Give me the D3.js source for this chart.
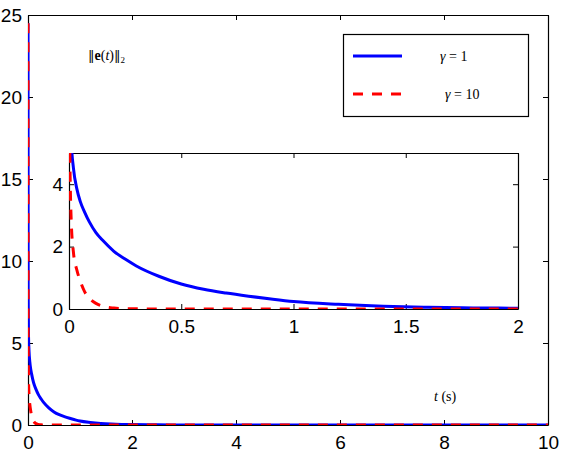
<!DOCTYPE html>
<html>
<head>
<meta charset="utf-8">
<script src="https://cdn.jsdelivr.net/npm/d3@7"></script>
<style>
body { margin: 0; background: #fff; }
svg { display: block; }
.tick text { font-family: "Liberation Sans", Arial, sans-serif; font-size: 19px; fill: #000; }
.domain { stroke: #000; stroke-width: 1.2; }
.tick line { stroke: #000; }
text.tex { font-family: "Liberation Serif", "Times New Roman", serif; font-size: 14px; fill: #000; }
</style>
</head>
<body>
<svg id="chart" width="562" height="468"></svg>
<script>
// time samples (s) and error norm for each gain
var times = [0, 0.003, 0.01, 0.02, 0.035, 0.05, 0.07, 0.09, 0.12, 0.15, 0.2, 0.25, 0.3, 0.4, 0.5,
    0.6, 0.7, 0.8, 0.9, 1.0, 1.2, 1.4, 1.6, 1.8, 2.0, 2.5, 3, 4, 5, 6, 7, 8, 9, 10];
var errGamma1 = [24.5, 8.0, 5.4, 4.5, 3.85, 3.45, 3.1, 2.8, 2.45, 2.2, 1.85, 1.6, 1.38, 1.05, 0.8,
    0.63, 0.51, 0.41, 0.32, 0.24, 0.15, 0.09, 0.055, 0.035, 0.025, 0.01, 0.005, 0, 0, 0, 0, 0, 0, 0];
var errGamma10 = [24.5, 5.5, 2.8, 1.8, 1.25, 0.9, 0.55, 0.35, 0.18, 0.09, 0.03, 0.01, 0.005, 0, 0,
    0, 0, 0, 0, 0, 0, 0, 0, 0, 0, 0, 0, 0, 0, 0, 0, 0, 0, 0];

var mainXTicks = [0, 2, 4, 6, 8, 10];
var mainYTicks = [0, 5, 10, 15, 20, 25];
var insetXTicks = [0, 0.5, 1, 1.5, 2];
var insetYTicks = [0, 2, 4];

var series = [
    {gamma: "1", values: errGamma1, color: "#0000ff", dash: null},
    {gamma: "10", values: errGamma10, color: "#ff0000", dash: "10,9"}
];

var svg = d3.select("#chart");

function drawPanel(box, xDomain, yDomain, xTicks, yTicks, id) {
    var x = d3.scaleLinear().domain(xDomain).range([box.left, box.right]);
    var y = d3.scaleLinear().domain(yDomain).range([box.bottom, box.top]);
    var g = svg.append("g");

    g.append("rect")
        .attr("x", box.left).attr("y", box.top)
        .attr("width", box.right - box.left).attr("height", box.bottom - box.top)
        .attr("fill", "#fff");

    g.append("clipPath").attr("id", id)
        .append("rect")
        .attr("x", box.left).attr("y", box.top)
        .attr("width", box.right - box.left).attr("height", box.bottom - box.top);

    var fmt = function (d) { return String(d); };
    g.append("g").attr("transform", "translate(0," + box.bottom + ")")
        .call(d3.axisBottom(x).tickValues(xTicks).tickFormat(fmt).tickSizeInner(-5).tickSizeOuter(0).tickPadding(11));
    g.append("g").attr("transform", "translate(0," + box.top + ")")
        .call(d3.axisTop(x).tickValues(xTicks).tickFormat("").tickSizeInner(-5).tickSizeOuter(0));
    g.append("g").attr("transform", "translate(" + box.left + ",0)")
        .call(d3.axisLeft(y).tickValues(yTicks).tickFormat(fmt).tickSizeInner(-5).tickSizeOuter(0).tickPadding(6));
    g.append("g").attr("transform", "translate(" + box.right + ",0)")
        .call(d3.axisRight(y).tickValues(yTicks).tickFormat("").tickSizeInner(-5).tickSizeOuter(0));

    // curves on top of the axes, clipped to the box
    var lines = g.append("g").attr("clip-path", "url(#" + id + ")");
    series.forEach(function (s) {
        var line = d3.line()
            .x(function (d, i) { return x(times[i]); })
            .y(function (d) { return y(d); })
            .curve(d3.curveMonotoneX);
        lines.append("path")
            .attr("d", line(s.values))
            .attr("fill", "none")
            .attr("stroke", s.color)
            .attr("stroke-width", 3)
            .attr("stroke-dasharray", s.dash);
    });
    return g;
}

// main axes
drawPanel({left: 28, right: 548, top: 15, bottom: 425}, [0, 10], [0, 25], mainXTicks, mainYTicks, "clipMain");

var bars = "<tspan font-family=\"DejaVu Serif\" font-size=\"13\">\u2016</tspan>";
svg.append("text").attr("class", "tex").attr("x", 88).attr("y", 60)
    .html(bars + "<tspan font-weight=\"bold\">e</tspan>(<tspan font-style=\"italic\">t</tspan>)" + bars +
        "<tspan font-size=\"9\" dy=\"3\">2</tspan>");
svg.append("text").attr("class", "tex").attr("x", 434).attr("y", 401)
    .html("<tspan font-style=\"italic\">t</tspan> (s)");

// legend
var legend = svg.append("g");
legend.append("rect").attr("x", 343.5).attr("y", 34.5).attr("width", 185).attr("height", 82)
    .attr("fill", "#fff").attr("stroke", "#000").attr("stroke-width", 1.2);
series.forEach(function (s, i) {
    var ly = 56 + i * 38;
    legend.append("line").attr("x1", 353).attr("x2", 402).attr("y1", ly).attr("y2", ly)
        .attr("stroke", s.color).attr("stroke-width", 3).attr("stroke-dasharray", s.dash);
    legend.append("text").attr("class", "tex").attr("x", 440 + i * 5).attr("y", ly + 5)
        .html("<tspan font-style=\"italic\">\u03b3</tspan> = " + s.gamma);
});

// inset zoom on first 2 s
drawPanel({left: 69, right: 518, top: 153, bottom: 309}, [0, 2], [0, 5], insetXTicks, insetYTicks, "clipInset");
</script>
</body>
</html>
